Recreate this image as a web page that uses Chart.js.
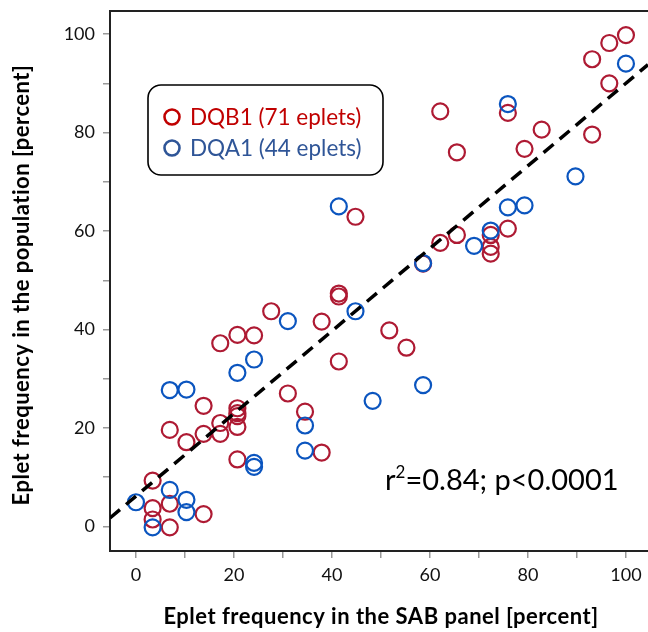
<!DOCTYPE html>
<html>
<head>
<meta charset="utf-8">
<script src="https://cdn.jsdelivr.net/npm/chart.js@4"></script>
<style>
  html, body { margin: 0; padding: 0; background: #fff; }
  #wrap { width: 648px; height: 632px; }
</style>
</head>
<body>
<div id="wrap"><canvas id="eplets" width="648" height="632"></canvas></div>
<script>
// DQB1 eplets: SAB panel frequency (x) vs population frequency (y)
const dqb1X = [27.6, 37.9, 41.4, 41.4, 17.2, 20.7, 24.1, 41.4, 31.0, 34.5, 13.8, 20.7, 20.7, 20.7, 20.7, 17.2,
               17.2, 13.8, 6.9, 10.3, 20.7, 37.9, 3.4, 3.4, 6.9, 3.4, 6.9, 13.8, 100, 96.6, 93.1, 96.6,
               62.1, 75.9, 82.8, 93.1, 79.3, 65.5, 75.9, 65.5, 62.1, 72.4, 72.4, 72.4, 58.6, 44.8, 51.7, 55.2];
const dqb1Y = [43.7, 41.6, 47.3, 46.7, 37.2, 38.9, 38.8, 33.5, 27.0, 23.3, 24.5, 24.0, 23.0, 22.4, 20.2, 21.0,
               18.8, 18.8, 19.6, 17.1, 13.6, 15.0, 9.3, 3.7, 4.6, 1.4, -0.2, 2.5, 99.8, 98.2, 94.9, 90.0,
               84.3, 84.0, 80.6, 79.6, 76.7, 76.0, 60.5, 59.2, 57.6, 59.2, 56.8, 55.4, 53.4, 62.9, 39.8, 36.3];

// DQA1 eplets
const dqa1X = [31.0, 44.8, 24.1, 20.7, 6.9, 10.3, 48.3, 34.5, 34.5, 24.1, 24.1, 6.9, 0, 10.3, 10.3, 3.4,
               100, 75.9, 89.7, 75.9, 79.3, 72.4, 69.0, 58.6, 41.4, 58.6];
const dqa1Y = [41.7, 43.7, 33.9, 31.2, 27.7, 27.8, 25.5, 20.5, 15.4, 12.9, 12.1, 7.4, 4.9, 5.4, 2.9, -0.2,
               94.0, 85.8, 71.1, 64.8, 65.2, 60.1, 57.0, 53.5, 65.0, 28.7];

// regression line end points
const fitX = [-5.3, 104.5];
const fitY = [1.7, 93.8];

const seriesLabels = ['DQB1 (71 eplets)', 'DQA1 (44 eplets)'];
const statText = ['r', '2', '=0.84; p<0.0001'];
const xTitle = 'Eplet frequency in the SAB panel [percent]';
const yTitle = 'Eplet frequency in the population [percent]';

const redMark = '#ae1a33';
const blueMark = '#0b55bf';
const redText = '#c00000';
const blueText = '#2f5597';
const FONT = 'Lato, "Open Sans", sans-serif';

const toPoints = (xs, ys) => xs.map((x, i) => ({ x: x, y: ys[i] }));

// frame, legend, stats text and axis titles
const decor = {
    id: 'decor',
    afterDraw(chart) {
        const ctx = chart.ctx;
        const area = chart.chartArea;
        ctx.save();

        // top border of the frame
        ctx.strokeStyle = '#222';
        ctx.lineWidth = 2;
        ctx.beginPath();
        ctx.moveTo(area.left, area.top);
        ctx.lineTo(area.right, area.top);
        ctx.stroke();

        // legend box
        ctx.lineWidth = 1.6;
        ctx.strokeStyle = '#000';
        ctx.fillStyle = '#fff';
        ctx.beginPath();
        ctx.roundRect(148, 85, 235, 90, 13);
        ctx.fill();
        ctx.stroke();

        const rows = [
            { label: seriesLabels[0], color: redText, y: 117 },
            { label: seriesLabels[1], color: blueText, y: 148 }
        ];
        ctx.font = '22.5px ' + FONT;
        ctx.textBaseline = 'middle';
        ctx.textAlign = 'left';
        rows.forEach(r => {
            ctx.strokeStyle = r.color;
            ctx.lineWidth = 2.6;
            ctx.beginPath();
            ctx.arc(172, r.y, 7.5, 0, Math.PI * 2);
            ctx.stroke();
            ctx.fillStyle = r.color;
            ctx.fillText(r.label, 190, r.y + 1);
        });

        // r^2 text
        ctx.fillStyle = '#000';
        ctx.textBaseline = 'alphabetic';
        ctx.font = '29px ' + FONT;
        let x = 385;
        ctx.fillText(statText[0], x, 490);
        x += ctx.measureText(statText[0]).width;
        ctx.font = '17px ' + FONT;
        ctx.fillText(statText[1], x, 478);
        x += ctx.measureText(statText[1]).width;
        ctx.font = '29px ' + FONT;
        ctx.fillText(statText[2], x, 490);

        // axis titles
        ctx.font = 'bold 22px ' + FONT;
        ctx.letterSpacing = '0.5px';
        ctx.textAlign = 'center';
        ctx.textBaseline = 'middle';
        ctx.fillText(xTitle, 381, 617);
        ctx.translate(22, 285);
        ctx.rotate(-Math.PI / 2);
        ctx.fillText(yTitle, 0, 0);

        ctx.restore();
    }
};

const axisTicks = {
    stepSize: 10,
    includeBounds: false,
    color: '#111',
    font: { family: FONT, size: 18 },
    callback: v => (v % 20 === 0 ? v : '')
};

const ctx = document.getElementById('eplets').getContext('2d');
new Chart(ctx, {
    type: 'scatter',
    data: {
        datasets: [
            {
                type: 'line',
                label: 'fit',
                data: toPoints(fitX, fitY),
                borderColor: '#000',
                borderWidth: 3.5,
                borderDash: [13, 8],
                pointRadius: 0,
                fill: false
            },
            {
                label: seriesLabels[1],
                data: toPoints(dqa1X, dqa1Y),
                borderColor: blueMark,
                backgroundColor: 'rgba(0,0,0,0)',
                borderWidth: 2.2,
                pointRadius: 8
            },
            {
                label: seriesLabels[0],
                data: toPoints(dqb1X, dqb1Y),
                borderColor: redMark,
                backgroundColor: 'rgba(0,0,0,0)',
                borderWidth: 2.2,
                pointRadius: 8
            }
        ]
    },
    options: {
        responsive: false,
        animation: false,
        layout: { autoPadding: false, padding: { top: 11, right: 0, left: 0, bottom: 0 } },
        plugins: {
            legend: { display: false },
            tooltip: { enabled: false }
        },
        scales: {
            x: {
                type: 'linear',
                min: -5.3,
                max: 104.5,
                afterFit: s => { s.height = 81; s.paddingLeft = 0; s.paddingRight = 0; },
                border: { display: true, color: '#222', width: 2 },
                grid: { drawOnChartArea: false, tickLength: 7, color: '#999', lineWidth: 1.5 },
                ticks: Object.assign({ padding: 6, maxRotation: 0 }, axisTicks)
            },
            y: {
                type: 'linear',
                min: -5,
                max: 104.7,
                afterFit: s => { s.width = 110; s.paddingTop = 0; s.paddingBottom = 0; },
                border: { display: true, color: '#222', width: 2 },
                grid: { drawOnChartArea: false, tickLength: 7, color: '#999', lineWidth: 1.5 },
                ticks: Object.assign({ padding: 8 }, axisTicks)
            }
        }
    },
    plugins: [decor]
});
</script>
</body>
</html>
